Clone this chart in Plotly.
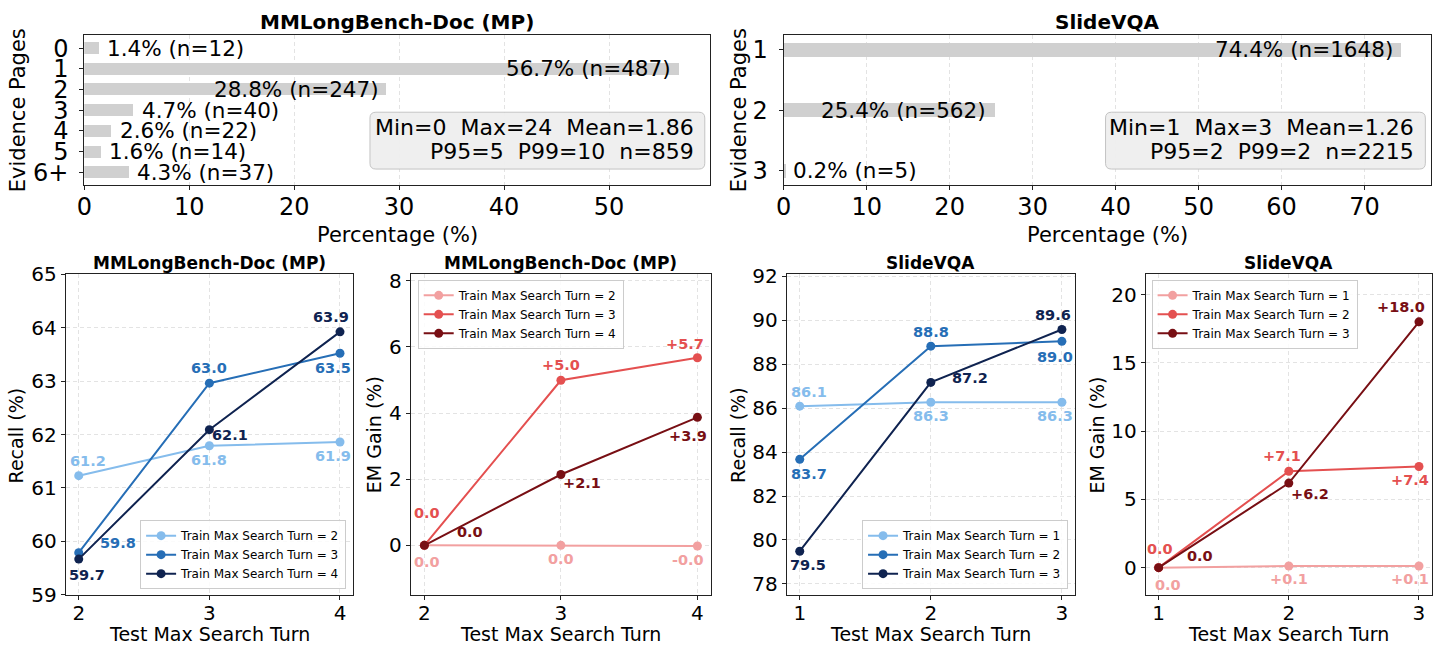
import plotly.graph_objects as go

W, H = 1433, 658
FONT = "DejaVu Sans"

# ---------------- data ----------------
mp_pages = ["0", "1", "2", "3", "4", "5", "6+"]
mp_pct = [1.4, 56.7, 28.8, 4.7, 2.6, 1.6, 4.3]
mp_n = [12, 487, 247, 40, 22, 14, 37]
mp_stats = ["Min=0  Max=24  Mean=1.86", "P95=5  P99=10  n=859"]

svqa_pages = ["1", "2", "3"]
svqa_pct = [74.4, 25.4, 0.2]
svqa_n = [1648, 562, 5]
svqa_stats = ["Min=1  Max=3  Mean=1.26", "P95=2  P99=2  n=2215"]

mp_turns = [2, 3, 4]
mp_recall_t2 = [61.23, 61.79, 61.86]
mp_recall_t3 = [59.79, 62.96, 63.52]
mp_recall_t4 = [59.67, 62.09, 63.92]
mp_em_t2 = [0.0, 0.0, -0.02]
mp_em_t3 = [0.0, 4.99, 5.67]
mp_em_t4 = [0.0, 2.14, 3.87]

svqa_turns = [1, 2, 3]
svqa_recall_t1 = [86.09, 86.27, 86.27]
svqa_recall_t2 = [83.67, 88.82, 89.04]
svqa_recall_t3 = [79.49, 87.17, 89.58]
svqa_em_t1 = [0.0, 0.12, 0.12]
svqa_em_t2 = [0.0, 7.06, 7.41]
svqa_em_t3 = [0.0, 6.19, 18.0]

# ---------------- styles ----------------
BLUES = ["#85BCEC", "#266EB6", "#0F2350"]
REDS = ["#F2A0A0", "#E45050", "#780F14"]
BAR_COLOR = "#d0d0d0"
GRID = "#e3e3e3"
SPINE = "#222222"


def fx(px):
    return px / W


def fy(py):
    return 1 - py / H


fig = go.Figure()

# ---------------- top bar charts ----------------
def add_bars(pages, pct, n, xa, ya, width):
    idx = list(range(len(pages)))
    fig.add_trace(go.Bar(x=pct, y=idx, orientation="h", width=width,
                         marker=dict(color=BAR_COLOR, line=dict(width=0)),
                         xaxis=xa, yaxis=ya, showlegend=False, hoverinfo="skip"))
    vmax = max(pct)
    for i, v, k in zip(idx, pct, n):
        inside = v > 0.3 * vmax
        fig.add_annotation(x=v, y=i, xref=xa, yref=ya, text=f"{v:.1f}% (n={k})",
                           showarrow=False, xanchor="right" if inside else "left",
                           xshift=-6 if inside else 6, yanchor="middle",
                           font=dict(family=FONT, size=21.5, color="black"))


add_bars(mp_pages, mp_pct, mp_n, "x", "y", 0.58)
add_bars(svqa_pages, svqa_pct, svqa_n, "x2", "y2", 0.23)


def rounded_path(x0, y0, x1, y1, r=6):
    pts = [
        ("M", x0 + r, y0), ("L", x1 - r, y0), ("Q", x1, y0, x1, y0 + r),
        ("L", x1, y1 - r), ("Q", x1, y1, x1 - r, y1), ("L", x0 + r, y1),
        ("Q", x0, y1, x0, y1 - r), ("L", x0, y0 + r), ("Q", x0, y0, x0 + r, y0),
    ]
    out = []
    for seg in pts:
        cmd = seg[0]
        coords = seg[1:]
        s = cmd
        for i in range(0, len(coords), 2):
            s += f" {fx(coords[i]):.5f},{fy(coords[i + 1]):.5f}"
        out.append(s)
    return " ".join(out) + " Z"


for (bx0, bx1, tx), lines in [((364, 700.7, 691.7), mp_stats),
                               ((1103.7, 1425.3, 1416.3), svqa_stats)]:
    fig.add_shape(type="path", path=rounded_path(bx0, 104, bx1, 163), xref="paper",
                  yref="paper", fillcolor="rgba(238,238,238,0.95)",
                  line=dict(color="#c4c4c4", width=1), layer="above")
    for ly, txt in zip([120, 145], lines):
        fig.add_annotation(x=fx(tx), y=fy(ly), xref="paper", yref="paper",
                           text=txt.replace("  ", "\u00a0\u00a0"), showarrow=False,
                           xanchor="right", yanchor="middle",
                           font=dict(family=FONT, size=22, color="black"))

# ---------------- bottom line charts ----------------
def fmt_recall(v):
    return f"{v:.1f}"


def fmt_gain(v):
    return f"+{v:.1f}" if round(v, 1) > 0 else f"{v:.1f}"


panels = [
    ("x3", "y3", "legend", mp_turns,
     [("Train Max Search Turn = 2", mp_recall_t2), ("Train Max Search Turn = 3", mp_recall_t3),
      ("Train Max Search Turn = 4", mp_recall_t4)], BLUES, fmt_recall,
     [[(9, -15), (0, 14), (-7, 14)], [(39, -10), (0, -15), (-7, 15)], [(8, 16), (21, 5), (-9, -15)]]),
    ("x4", "y4", "legend2", mp_turns,
     [("Train Max Search Turn = 2", mp_em_t2), ("Train Max Search Turn = 3", mp_em_t3),
      ("Train Max Search Turn = 4", mp_em_t4)], REDS, fmt_gain,
     [[(3, 17), (0, 14), (-9, 14)], [(3, -32), (0, -15), (-12, -14)], [(46, -13), (21, 8), (-9, 19)]]),
    ("x5", "y5", "legend3", svqa_turns,
     [("Train Max Search Turn = 1", svqa_recall_t1), ("Train Max Search Turn = 2", svqa_recall_t2),
      ("Train Max Search Turn = 3", svqa_recall_t3)], BLUES, fmt_recall,
     [[(9, -14), (0, 14), (-7, 14)], [(9, 15), (0, -14), (-7, 16)], [(8, 14), (39, -4), (-9, -14)]]),
    ("x6", "y6", "legend4", svqa_turns,
     [("Train Max Search Turn = 1", svqa_em_t1), ("Train Max Search Turn = 2", svqa_em_t2),
      ("Train Max Search Turn = 3", svqa_em_t3)], REDS, fmt_gain,
     [[(9, 17), (0, 13), (-9, 13)], [(1, -19), (-7, -15), (-9, 14)], [(41, -12), (21, 11), (-18, -15)]]),
]

for xa, ya, lg, turns, series, colors, fmt, offs in panels:
    for (name, vals), col, off in zip(series, colors, offs):
        fig.add_trace(go.Scatter(x=turns, y=vals, mode="lines+markers", name=name,
                                 line=dict(color=col, width=2), marker=dict(color=col, size=9),
                                 xaxis=xa, yaxis=ya, legend=lg, hoverinfo="skip"))
        for t, v, (dx, dy) in zip(turns, vals, off):
            fig.add_annotation(x=t, y=v, xref=xa, yref=ya, text=f"<b>{fmt(v)}</b>",
                               showarrow=False, xshift=dx, yshift=-dy,
                               xanchor="center", yanchor="middle",
                               font=dict(family=FONT, size=14.5, color=col))

# ---------------- axes ----------------
common = dict(showline=True, mirror=True, linecolor=SPINE, linewidth=1, ticks="outside",
              ticklen=4, tickcolor=SPINE, zeroline=False)
top_y = [fy(180), fy(24)]
bot_y = [fy(605), fy(272)]

fig.update_layout(
    xaxis=dict(domain=[fx(76.7), fx(705.7)], range=[0, 59.6], tickvals=[0, 10, 20, 30, 40, 50],
               showgrid=True, gridcolor=GRID, griddash="4px,3px", ticklabelstandoff=-4,
               tickfont=dict(family=FONT, size=24, color="black"), anchor="y", **common),
    yaxis=dict(domain=top_y, range=[6.63, -0.63], tickmode="array",
               tickvals=list(range(len(mp_pages))), ticktext=mp_pages, showgrid=False,
               ticklabelstandoff=6,
               tickfont=dict(family=FONT, size=24, color="black"), anchor="x", **common),
    xaxis2=dict(domain=[fx(780), fx(1431)], range=[0, 78], tickvals=[0, 10, 20, 30, 40, 50, 60, 70],
                showgrid=True, gridcolor=GRID, griddash="4px,3px", ticklabelstandoff=-4,
                tickfont=dict(family=FONT, size=24, color="black"), anchor="y2", **common),
    yaxis2=dict(domain=top_y, range=[2.24, -0.24], tickmode="array",
                tickvals=list(range(len(svqa_pages))), ticktext=svqa_pages, showgrid=False,
                ticklabelstandoff=6,
                tickfont=dict(family=FONT, size=24, color="black"), anchor="x2", **common),
)

bottom_axes = [
    ("xaxis3", "yaxis3", "x3", "y3", [58, 347], [1.9, 4.1], mp_turns, [59, 65], list(range(59, 66))),
    ("xaxis4", "yaxis4", "x4", "y4", [405, 707], [1.9, 4.1], mp_turns, [-1.5, 8.2], [0, 2, 4, 6, 8]),
    ("xaxis5", "yaxis5", "x5", "y5", [783, 1073], [0.9, 3.1], svqa_turns, [77.5, 92.1],
     list(range(78, 93, 2))),
    ("xaxis6", "yaxis6", "x6", "y6", [1144, 1432], [0.9, 3.1], svqa_turns, [-2, 21.5],
     [0, 5, 10, 15, 20]),
]
for xk, yk, xa, ya, dom, xr, xt, yr, yt in bottom_axes:
    fig.update_layout({
        xk: dict(domain=[fx(dom[0]), fx(dom[1])], range=xr, tickvals=xt, anchor=ya,
                 showgrid=True, gridcolor=GRID, griddash="4px,3px", ticklabelstandoff=-4,
                 tickfont=dict(family=FONT, size=20, color="black"), **common),
        yk: dict(domain=bot_y, range=yr, tickvals=yt, anchor=xa,
                 showgrid=True, gridcolor=GRID, griddash="4px,3px",
                 tickfont=dict(family=FONT, size=20, color="black"), **common),
    })

# ---------------- legends ----------------
def legend_cfg(x, y, xanchor, yanchor):
    return dict(x=fx(x), y=fy(y), xanchor=xanchor, yanchor=yanchor, xref="paper", yref="paper",
                bgcolor="rgba(255,255,255,0.85)", bordercolor="#cccccc", borderwidth=1,
                font=dict(family=FONT, size=12, color="black"), tracegroupgap=0,
                itemwidth=30)


fig.update_layout(
    legend=legend_cfg(340, 599, "right", "bottom"),
    legend2=legend_cfg(412, 278, "left", "top"),
    legend3=legend_cfg(1066, 599, "right", "bottom"),
    legend4=legend_cfg(1150, 278, "left", "top"),
)

# ---------------- titles & axis labels ----------------
def label(text, x, y, size, angle=0):
    fig.add_annotation(x=fx(x), y=fy(y), xref="paper", yref="paper", text=text,
                       showarrow=False, xanchor="center", yanchor="middle", textangle=angle,
                       font=dict(family=FONT, size=size, color="black"))


label("<b>MMLongBench-Doc (MP)</b>", 391.2, 10, 20)
label("<b>SlideVQA</b>", 1105.5, 10, 20)
label("Percentage (%)", 391.2, 231, 21)
label("Percentage (%)", 1105.5, 231, 21)
label("Evidence Pages", 10, 102, 21, -90)
label("Evidence Pages", 735, 102, 21, -90)

for title, ylab, cx, yx in [("MMLongBench-Doc (MP)", "Recall (%)", 202.5, 8.5),
                            ("MMLongBench-Doc (MP)", "EM Gain (%)", 556, 368.3),
                            ("SlideVQA", "Recall (%)", 928, 734),
                            ("SlideVQA", "EM Gain (%)", 1288, 1094.7)]:
    label(f"<b>{title}</b>", cx, 260, 17)
    label("Test Max Search Turn", cx, 646, 19)
    label(ylab, yx, 439, 19, -90)

fig.update_layout(width=W, height=H, autosize=False, margin=dict(l=0, r=0, t=0, b=0),
                  paper_bgcolor="white", plot_bgcolor="white", bargap=0,
                  font=dict(family=FONT, color="black"))

fig.write_html("out.html")
